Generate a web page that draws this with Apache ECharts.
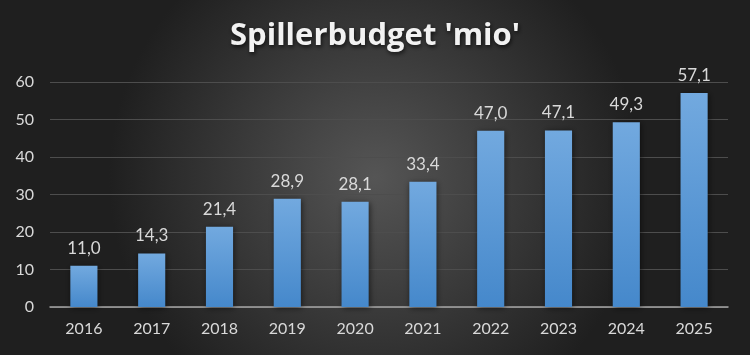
<!DOCTYPE html>
<html><head><meta charset="utf-8">
<script src="https://cdn.jsdelivr.net/npm/echarts@6/dist/echarts.min.js"></script>
<style>html,body{margin:0;padding:0;}#c{width:750px;height:355px;}</style>
</head><body><div id="c"></div>
<script>
const categories = ['2016','2017','2018','2019','2020','2021','2022','2023','2024','2025'];
const values = [11.0, 14.3, 21.4, 28.9, 28.1, 33.4, 47.0, 47.1, 49.3, 57.1];
const yTicks = {min: 0, max: 60, interval: 10};
const titleText = "Spillerbudget 'mio'";

const chart = echarts.init(document.getElementById('c'), null, {renderer: 'canvas'});
chart.setOption({
  backgroundColor: new echarts.graphic.RadialGradient(0.5, 0.5, 0.75, [
    {offset: 0, color: '#555555'},
    {offset: 1, color: '#1f1f1f'}
  ]),
  animation: false,
  title: {
    text: titleText, left: 'center', top: 16,
    textStyle: {color: '#f2f2f2', fontSize: 31, fontWeight: 'bold', fontFamily: 'Open Sans',
      textShadowColor: 'rgba(0,0,0,0.7)', textShadowBlur: 4, textShadowOffsetX: 1, textShadowOffsetY: 2}
  },
  grid: {left: 50, right: 22, top: 82, bottom: 48},
  xAxis: {
    type: 'category', data: categories,
    axisLine: {lineStyle: {color: '#a6a6a6', width: 1.5}},
    axisTick: {show: false},
    axisLabel: {color: '#d9d9d9', fontSize: 16, fontFamily: 'Lato', margin: 14}
  },
  yAxis: {
    type: 'value', min: yTicks.min, max: yTicks.max, interval: yTicks.interval,
    axisLine: {show: false}, axisTick: {show: false},
    axisLabel: {color: '#d9d9d9', fontSize: 16, fontFamily: 'Lato', margin: 16},
    splitLine: {lineStyle: {color: '#4d4d4d', width: 1.2}}
  },
  series: [{
    type: 'bar', data: values, barWidth: '40%',
    itemStyle: {
      color: new echarts.graphic.LinearGradient(0, 0, 0, 1, [
        {offset: 0, color: '#72a9df'},
        {offset: 1, color: '#4588cb'}
      ]),
      shadowColor: 'rgba(0,0,0,0.55)', shadowBlur: 6, shadowOffsetX: 1, shadowOffsetY: 1
    },
    label: {
      show: true, position: 'top', distance: 9, color: '#d9d9d9', fontSize: 17, fontFamily: 'Lato',
      formatter: p => p.value.toFixed(1).replace('.', ',')
    }
  }]
});
</script></body></html>
